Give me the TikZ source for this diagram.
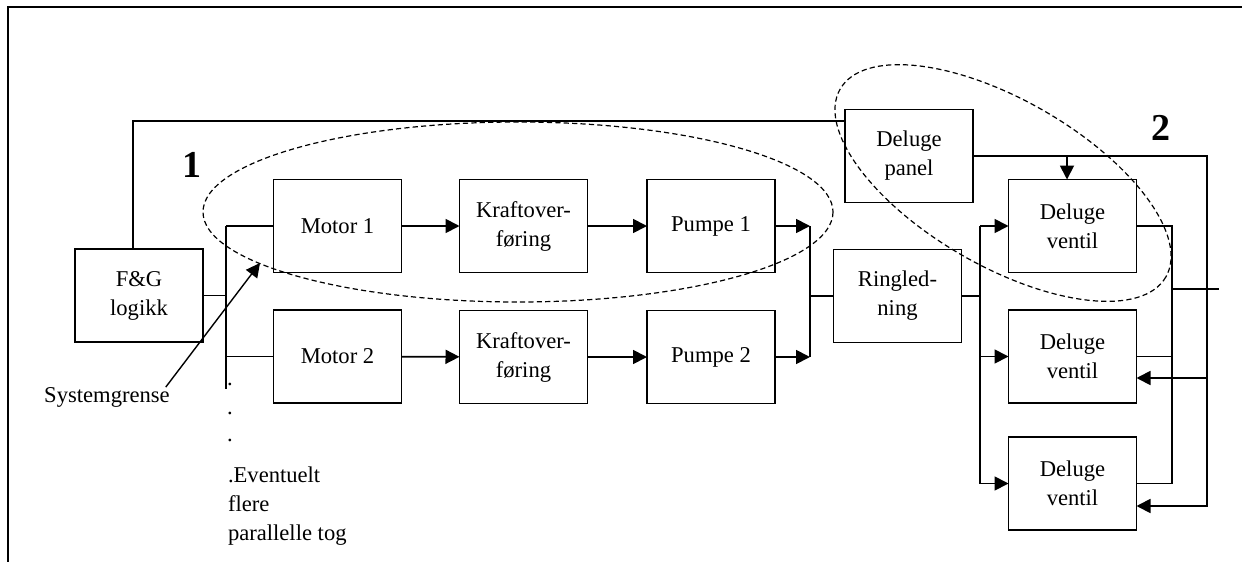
\documentclass[tikz,border=0pt]{standalone}
\usepackage{fontspec}
\setmainfont{Liberation Serif}
\usetikzlibrary{arrows.meta}

\tikzset{
  blokk/.style={draw, line width=0.9pt, minimum width=64pt, minimum height=46.5pt,
    align=center},
  linje/.style={line width=0.9pt},
  pil/.style={line width=0.9pt, -{Triangle[length=7pt,width=7pt]}},
  grense/.style={dashed, line width=0.6pt, dash pattern=on 2.6pt off 1.6pt},
  nummer/.style={font=\fontsize{19}{20}\selectfont\bfseries}
}

\begin{document}
\begin{tikzpicture}[y=0.5pt, x=0.5pt, yscale=-1, inner sep=0pt, outer sep=0pt,
  font=\fontsize{11.3}{14.5}\selectfont]
\useasboundingbox (0,0) rectangle (1242,562);
\draw[line width=1.4pt] (8,562) -- (8,7) -- (1242,7);

% blokker
\node[blokk] (fg) at (139,295.5) {F\&G\\logikk};
\node[blokk] (motor1) at (337.5,226) {Motor 1};
\node[blokk] (motor2) at (337.5,356.5) {Motor 2};
\node[blokk] (kraft1) at (523.5,226) {Kraftover-\\føring};
\node[blokk] (kraft2) at (523.5,357) {Kraftover-\\føring};
\node[blokk] (pumpe1) at (711,226) {Pumpe 1};
\node[blokk] (pumpe2) at (711,357) {Pumpe 2};
\node[blokk] (ring) at (897.5,296) {Ringled-\\ning};
\node[blokk] (panel) at (909,156) {Deluge\\panel};
\node[blokk] (ventil1) at (1072.5,226) {Deluge\\ventil};
\node[blokk] (ventil2) at (1072.5,356.5) {Deluge\\ventil};
\node[blokk] (ventil3) at (1072.5,483.5) {Deluge\\ventil};

% tekster
\node[nummer] (nr1) at (192,165) {1};
\node[nummer] (nr2) at (1161,128) {2};
\node (grensetekst) at (107,397) {Systemgrense};
\node[anchor=base] (prikk1) at (230,385) {.};
\node[anchor=base] (prikk2) at (230,414) {.};
\node[anchor=base] (prikk3) at (230,441) {.};
\node[anchor=north west, align=left] (flere) at (228,467)
  {.Eventuelt\\flere\\parallelle tog};

% hjelpepunkter
\coordinate (buss1) at (226,226);
\coordinate (buss2) at (226,389);
\coordinate (samle1) at (810,226);
\coordinate (samle2) at (810,357);
\coordinate (fordel1) at (980,226);
\coordinate (fordel3) at (980,483.5);
\coordinate (styr2) at (1207,506);
\coordinate (styr3) at (1207,378);
\coordinate (retur1) at (1172,226);
\coordinate (retur2) at (1172,289);
\coordinate (ut) at (1219,289);
\coordinate (grensepunkt) at (260,263);

% linjer
\draw[linje] ([xshift=-3pt]fg.north) |- ([yshift=-17.5pt]panel.west);
\draw[linje] (fg.east) -- (fg.east -| buss1);
\draw[linje] (buss1) -- (buss2);
\draw[linje] (buss1) -- (motor1.west);
\draw[linje] (motor2.west -| buss1) -- (motor2.west);
\draw[pil] (motor1) -- (kraft1);
\draw[pil] (kraft1) -- (pumpe1);
\draw[pil] (motor2) -- (kraft2);
\draw[pil] (kraft2) -- (pumpe2);
\draw[pil] (pumpe1.east) -- (samle1);
\draw[pil] (pumpe2.east) -- (samle2);
\draw[linje] (samle1) -- (samle2);
\draw[linje] (ring.west -| samle1) -- (ring.west);
\draw[linje] (ring.east) -- (ring.east -| fordel1);
\draw[linje] (fordel1) -- (fordel3);
\draw[pil] (fordel1) -- (ventil1.west);
\draw[pil] (ventil2.west -| fordel1) -- (ventil2.west);
\draw[pil] (fordel3) -- (ventil3.west);
\draw[pil] (panel.east) -| (styr2) -- (styr2 -| ventil3.east);
\draw[pil] ([xshift=-2.75pt]ventil1.north |- panel.east) -- ([xshift=-2.75pt]ventil1.north);
\draw[pil] (styr3) -- (styr3 -| ventil2.east);
\draw[linje] (ventil1.east) -- (retur1) |- (ventil3.east);
\draw[linje] (ventil2.east) -- (ventil2.east -| retur1);
\draw[linje] (retur2) -- (ut);
\draw[pil, line width=0.7pt] ([xshift=-2pt]grensetekst.north east) -- (grensepunkt);

% systemgrenser
\draw[grense] (518,212) ellipse [x radius=315, y radius=90];
\draw[grense, rotate around={30:(1003,183)}] (1003,183) ellipse [x radius=188, y radius=83];

\end{tikzpicture}
\end{document}
